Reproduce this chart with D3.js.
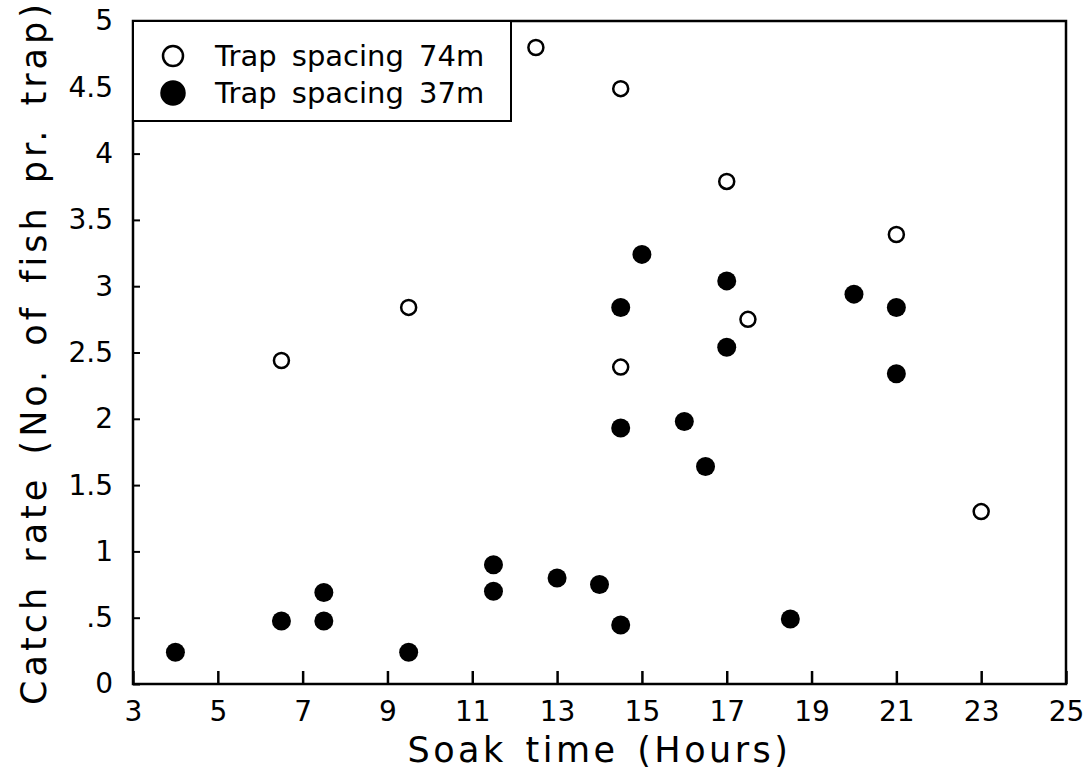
<!DOCTYPE html>
<html>
<head>
<meta charset="utf-8">
<script src="https://cdn.jsdelivr.net/npm/d3@7"></script>
<style>
  body { margin: 0; background: #fff; }
  text { font-family: "DejaVu Sans", sans-serif; fill: #000; }
</style>
</head>
<body>
<div id="chart"></div>
<script>
//////////////////////////// data /////////////////////////////////////////

const xTicks = [3, 5, 7, 9, 11, 13, 15, 17, 19, 21, 23, 25];
const yTicks = [0, 0.5, 1, 1.5, 2, 2.5, 3, 3.5, 4, 4.5, 5];
const yTickLabels = ["0", ".5", "1", "1.5", "2", "2.5", "3", "3.5", "4", "4.5", "5"];

// trap spacing 74m (open circles)
const soak74 = [6.5, 9.5, 12.5, 14.5, 14.5, 17, 17.5, 21, 23];
const catch74 = [2.44, 2.84, 4.8, 4.49, 2.39, 3.79, 2.75, 3.39, 1.3];

// trap spacing 37m (filled circles)
const soak37 = [4, 6.5, 7.5, 7.5, 9.5, 11.5, 11.5, 13, 14, 14.5, 14.5, 14.5, 15, 16, 16.5, 17, 17, 18.5, 20, 21, 21];
const catch37 = [0.24, 0.475, 0.69, 0.475, 0.24, 0.9, 0.7, 0.8, 0.75, 0.445, 2.84, 1.93, 3.24, 1.98, 1.64, 3.04, 2.54, 0.49, 2.94, 2.84, 2.34];

const legendLabels = ["Trap spacing 74m", "Trap spacing 37m"];

//////////////////////////// sizes ///////////////////////////////////////

const width = 1088, height = 777;
const margin = { top: 21, right: 22, bottom: 93, left: 133 };
const bw = width - margin.left - margin.right;
const bh = height - margin.top - margin.bottom;

const svg = d3.select("#chart").append("svg")
  .attr("width", width).attr("height", height);

const bounds = svg.append("g")
  .attr("transform", `translate(${margin.left},${margin.top})`);

//////////////////////////// scales ///////////////////////////////////////

const xScale = d3.scaleLinear().domain([3, 25]).range([0, bw]);
const yScale = d3.scaleLinear().domain([0, 5]).range([bh, 0]);

//////////////////////////// axes /////////////////////////////////////////

// frame
bounds.append("rect")
  .attr("width", bw).attr("height", bh)
  .attr("fill", "none").attr("stroke", "#000").attr("stroke-width", 2.5);

const xAxis = bounds.append("g")
  .attr("transform", `translate(0,${bh})`)
  .call(d3.axisBottom(xScale).tickValues(xTicks).tickSize(-13).tickPadding(16));
xAxis.select(".domain").remove();
xAxis.selectAll("line").attr("stroke-width", 2.5);
xAxis.selectAll("text").style("font-size", "28px").attr("dy", "0.75em");

const yAxis = bounds.append("g")
  .call(d3.axisLeft(yScale).tickValues(yTicks)
    .tickFormat((d, i) => yTickLabels[i]).tickSize(-7).tickPadding(20));
yAxis.select(".domain").remove();
yAxis.selectAll("line").attr("stroke-width", 2);
yAxis.selectAll("text").style("font-size", "28px");

// axis titles
svg.append("text")
  .attr("x", margin.left + xScale(14))
  .attr("y", 762)
  .attr("text-anchor", "middle")
  .style("font-size", "35px")
  .style("letter-spacing", "3.5px")
  .style("word-spacing", "4px")
  .text("Soak time (Hours)");

svg.append("text")
  .attr("transform", `translate(46,${margin.top + yScale(2.5)}) rotate(-90)`)
  .attr("text-anchor", "middle")
  .style("font-size", "35px")
  .style("letter-spacing", "4px")
  .style("word-spacing", "6px")
  .text("Catch rate (No. of fish pr. trap)");

//////////////////////////// points ///////////////////////////////////////

const pts74 = soak74.map((s, i) => ({ x: s, y: catch74[i] }));
const pts37 = soak37.map((s, i) => ({ x: s, y: catch37[i] }));

bounds.selectAll(".p37").data(pts37).enter().append("circle")
  .attr("class", "p37")
  .attr("cx", d => xScale(d.x)).attr("cy", d => yScale(d.y))
  .attr("r", 9.5).attr("fill", "#000");

bounds.selectAll(".p74").data(pts74).enter().append("circle")
  .attr("class", "p74")
  .attr("cx", d => xScale(d.x)).attr("cy", d => yScale(d.y))
  .attr("r", 7.5).attr("fill", "#fff")
  .attr("stroke", "#000").attr("stroke-width", 2.5);

//////////////////////////// legend ///////////////////////////////////////

const legend = bounds.append("g");
legend.append("rect")
  .attr("x", 0).attr("y", 0).attr("width", 378).attr("height", 100)
  .attr("fill", "#fff").attr("stroke", "#000").attr("stroke-width", 2);

legendLabels.forEach((lab, i) => {
  const cy = 35 + i * 37;
  legend.append("circle")
    .attr("cx", 40).attr("cy", cy)
    .attr("r", i === 0 ? 10 : 11.5)
    .attr("fill", i === 0 ? "#fff" : "#000")
    .attr("stroke", "#000").attr("stroke-width", 2.5);
  legend.append("text")
    .attr("x", 82).attr("y", cy + 10)
    .style("font-size", "29px")
    .style("word-spacing", "6px")
    .text(lab);
});
</script>
</body>
</html>
